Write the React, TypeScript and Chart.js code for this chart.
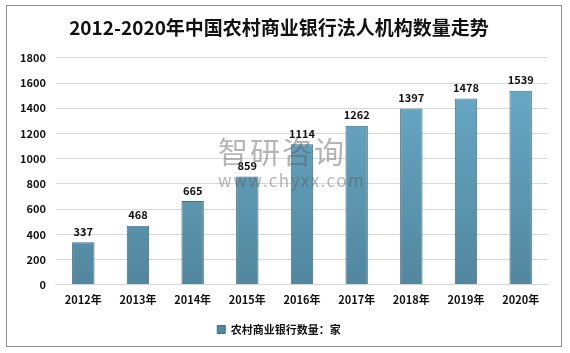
import React, { useEffect, useRef } from "react";
import { Chart, registerables } from "chart.js";

Chart.register(...registerables);

const categories = ["2012年", "2013年", "2014年", "2015年", "2016年", "2017年", "2018年", "2019年", "2020年"];
const values = [337, 468, 665, 859, 1114, 1262, 1397, 1478, 1539];
const seriesName = "农村商业银行数量：家";
const titleText = "2012-2020年中国农村商业银行法人机构数量走势";
const yMax = 1800;
const yStep = 200;

const FONT = "'Noto Sans CJK SC', 'Noto Sans', sans-serif";

const valueLabels = {
  id: "valueLabels",
  afterDatasetsDraw(chart: any) {
    const ctx = chart.ctx;
    const meta = chart.getDatasetMeta(0);
    ctx.save();
    ctx.font = `bold 11px ${FONT}`;
    ctx.fillStyle = "#111";
    ctx.textAlign = "center";
    ctx.textBaseline = "bottom";
    meta.data.forEach((bar: any, i: number) => {
      ctx.fillText(String(values[i]), bar.x, bar.y - 5);
    });
    ctx.restore();
  },
};

export default function App() {
  const ref = useRef<HTMLCanvasElement | null>(null);
  useEffect(() => {
    if (!ref.current) return;
    const chart = new Chart(ref.current, {
      type: "bar",
      data: {
        labels: categories,
        datasets: [
          {
            label: seriesName,
            data: values,
            backgroundColor: (c: any) => {
              const ch = c.chart;
              const area = ch.chartArea;
              if (!area) return "#5a9bb8";
              const g = ch.ctx.createLinearGradient(0, area.top, 0, area.bottom);
              g.addColorStop(0, "#6aadcb");
              g.addColorStop(1, "#52879e");
              return g;
            },
            borderColor: "#3f6f86",
            borderWidth: 1,
            categoryPercentage: 0.82,
            barPercentage: 0.5,
          },
        ],
      },
      options: {
        animation: false,
        responsive: false,
        maintainAspectRatio: false,
        layout: { padding: { left: 10, right: 22, top: 6, bottom: 8 } },
        plugins: {
          title: {
            display: true,
            text: titleText,
            color: "#111",
            font: { family: FONT, size: 19, weight: "bold" },
            padding: { top: 10, bottom: 19 },
          },
          legend: {
            position: "bottom",
            labels: {
              boxWidth: 8,
              boxHeight: 8,
              color: "#111",
              font: { family: FONT, size: 11, weight: "bold" },
              padding: 10,
            },
          },
          tooltip: { enabled: false },
        },
        scales: {
          x: {
            grid: { display: false, drawTicks: false },
            border: { display: true, color: "#d9d9d9" },
            ticks: {
              color: "#111",
              font: { family: FONT, size: 11, weight: "bold" },
              padding: 8,
              maxRotation: 0,
            },
          },
          y: {
            min: 0,
            max: yMax,
            grid: { color: "#d9d9d9", drawTicks: false },
            border: { display: false },
            ticks: {
              stepSize: yStep,
              color: "#111",
              font: { family: FONT, size: 11, weight: "bold" },
              padding: 10,
              callback: (v: any) => String(v),
            },
          },
        },
      },
      plugins: [valueLabels],
    });
    return () => chart.destroy();
  }, []);

  return (
    <div style={{ position: "fixed", left: 0, top: 0, width: 570, height: 353, background: "#fff" }}>
      <canvas ref={ref} width={570} height={353} style={{ position: "absolute", left: 0, top: 0 }} />
      <div
        style={{
          position: "absolute",
          left: 6,
          top: 5,
          width: 554,
          height: 340,
          border: "1px solid #8c8c8c",
          pointerEvents: "none",
        }}
      />
      <div
        style={{
          position: "absolute",
          left: 218,
          top: 135,
          fontFamily: FONT,
          color: "rgba(90,90,90,0.45)",
          lineHeight: 1,
          pointerEvents: "none",
        }}
      >
        <div style={{ fontSize: 30, letterSpacing: 2 }}>智研咨询</div>
        <div style={{ fontSize: 17, marginTop: 6, letterSpacing: 1.5 }}>www.chyxx.com</div>
      </div>
    </div>
  );
}
